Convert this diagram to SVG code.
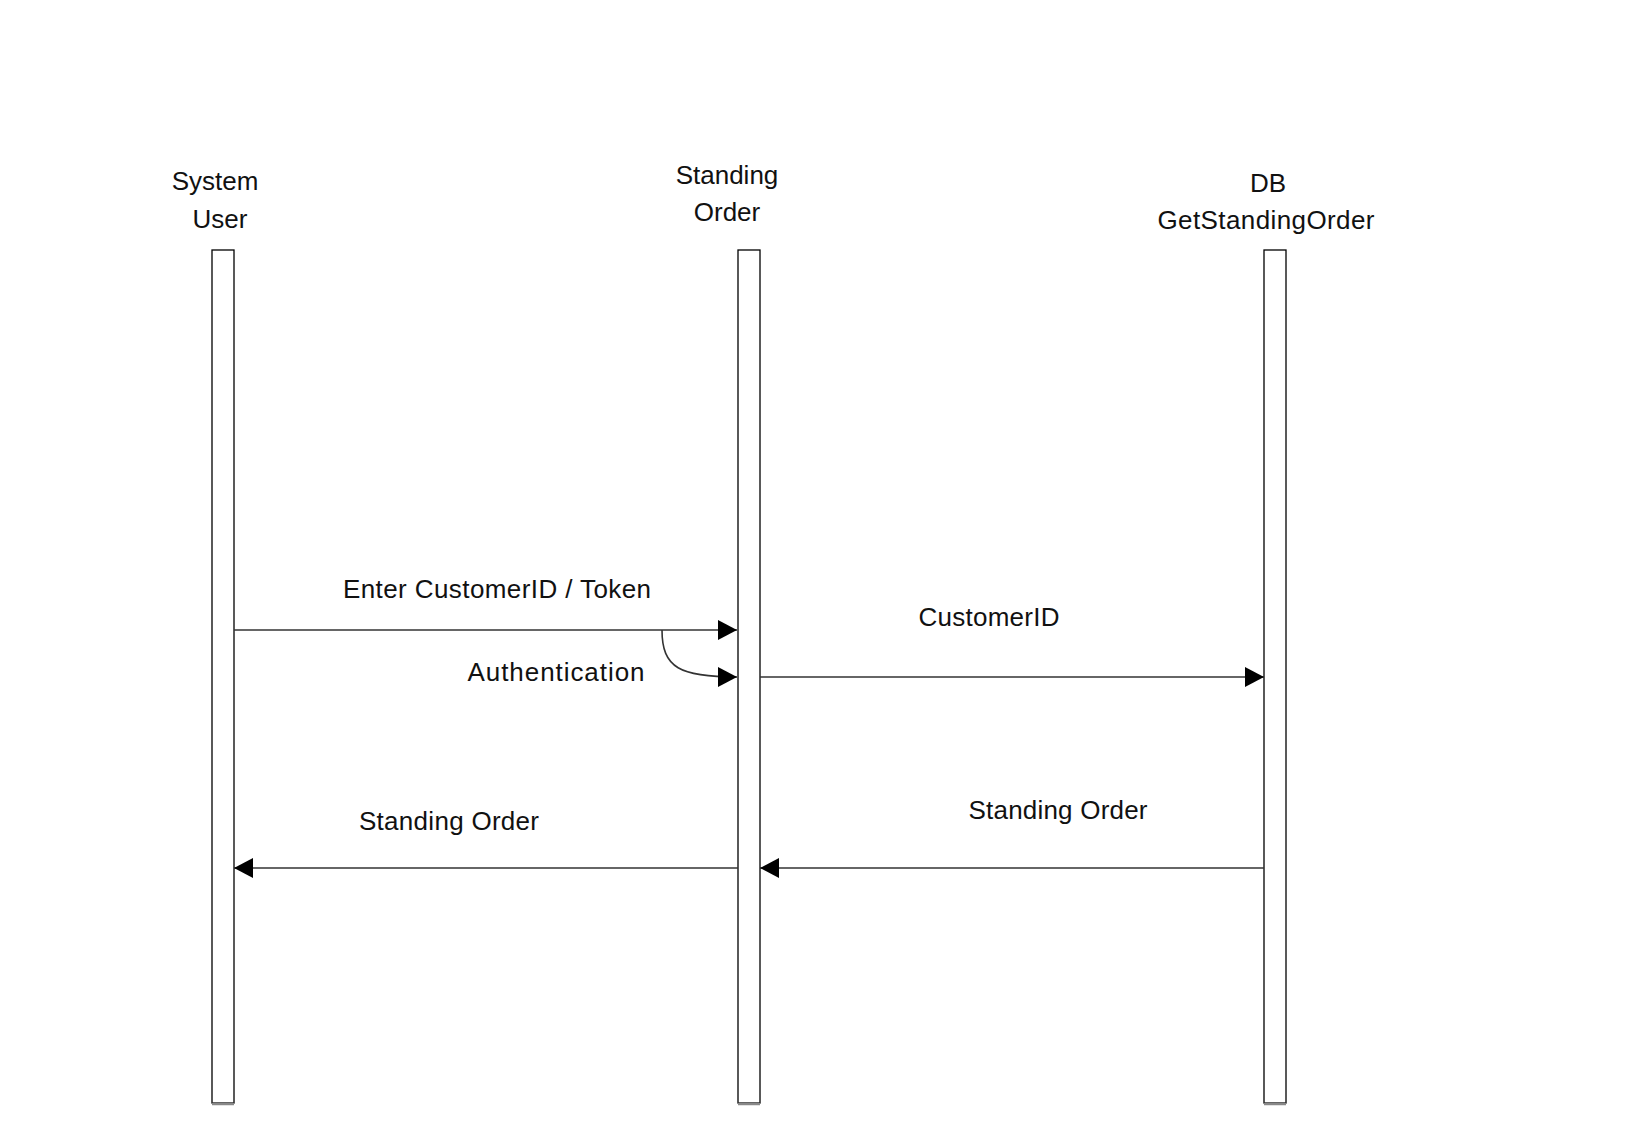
<svg xmlns="http://www.w3.org/2000/svg" width="1648" height="1128" viewBox="0 0 1648 1128">
  <style>
    .lbl { font-family: "Liberation Sans", Arial, sans-serif; font-size: 26px; fill: #111; text-anchor: middle; }
    .life { fill: #fff; stroke: #000; stroke-width: 1.3; }
    .shadow { stroke: #888; stroke-width: 2.5; }
    .msg { fill: none; stroke: #333; stroke-width: 1.6; }
  </style>
  <defs>
    <marker id="arr" markerUnits="userSpaceOnUse" markerWidth="20" markerHeight="20" refX="19" refY="10" orient="auto">
      <path d="M0,0 L19,10 L0,20 Z" fill="#000"/>
    </marker>
  </defs>
  <rect width="1648" height="1128" fill="#fff"/>

  <g id="system-user">
    <rect class="life" x="212" y="250" width="22" height="853"/>
    <line class="shadow" x1="212" y1="1104" x2="234" y2="1104"/>
    <text class="lbl" x="215" y="190">System</text>
    <text class="lbl" x="220" y="228">User</text>
  </g>

  <g id="standing-order">
    <rect class="life" x="738" y="250" width="22" height="853"/>
    <line class="shadow" x1="738" y1="1104" x2="760" y2="1104"/>
    <text class="lbl" x="727" y="184">Standing</text>
    <text class="lbl" x="727" y="221">Order</text>
  </g>

  <g id="db-getstandingorder">
    <rect class="life" x="1264" y="250" width="22" height="853"/>
    <line class="shadow" x1="1264" y1="1104" x2="1286" y2="1104"/>
    <text class="lbl" x="1268" y="192">DB</text>
    <text class="lbl" x="1266" y="229" textLength="217">GetStandingOrder</text>
  </g>

  <g id="connectors">
    <line class="msg" x1="234" y1="630" x2="737" y2="630" marker-end="url(#arr)"/>
    <path class="msg" d="M662,630 C662,668 680,677 737,677" marker-end="url(#arr)"/>
    <line class="msg" x1="760" y1="677" x2="1264" y2="677" marker-end="url(#arr)"/>
    <line class="msg" x1="1264" y1="868" x2="760" y2="868" marker-end="url(#arr)"/>
    <line class="msg" x1="738" y1="868" x2="234" y2="868" marker-end="url(#arr)"/>
    <text class="lbl" x="497" y="598" textLength="308">Enter CustomerID / Token</text>
    <text class="lbl" x="556" y="681" textLength="177">Authentication</text>
    <text class="lbl" x="989" y="626" textLength="141">CustomerID</text>
    <text class="lbl" x="1058" y="819" textLength="179">Standing Order</text>
    <text class="lbl" x="449" y="830" textLength="180">Standing Order</text>
  </g>
</svg>
